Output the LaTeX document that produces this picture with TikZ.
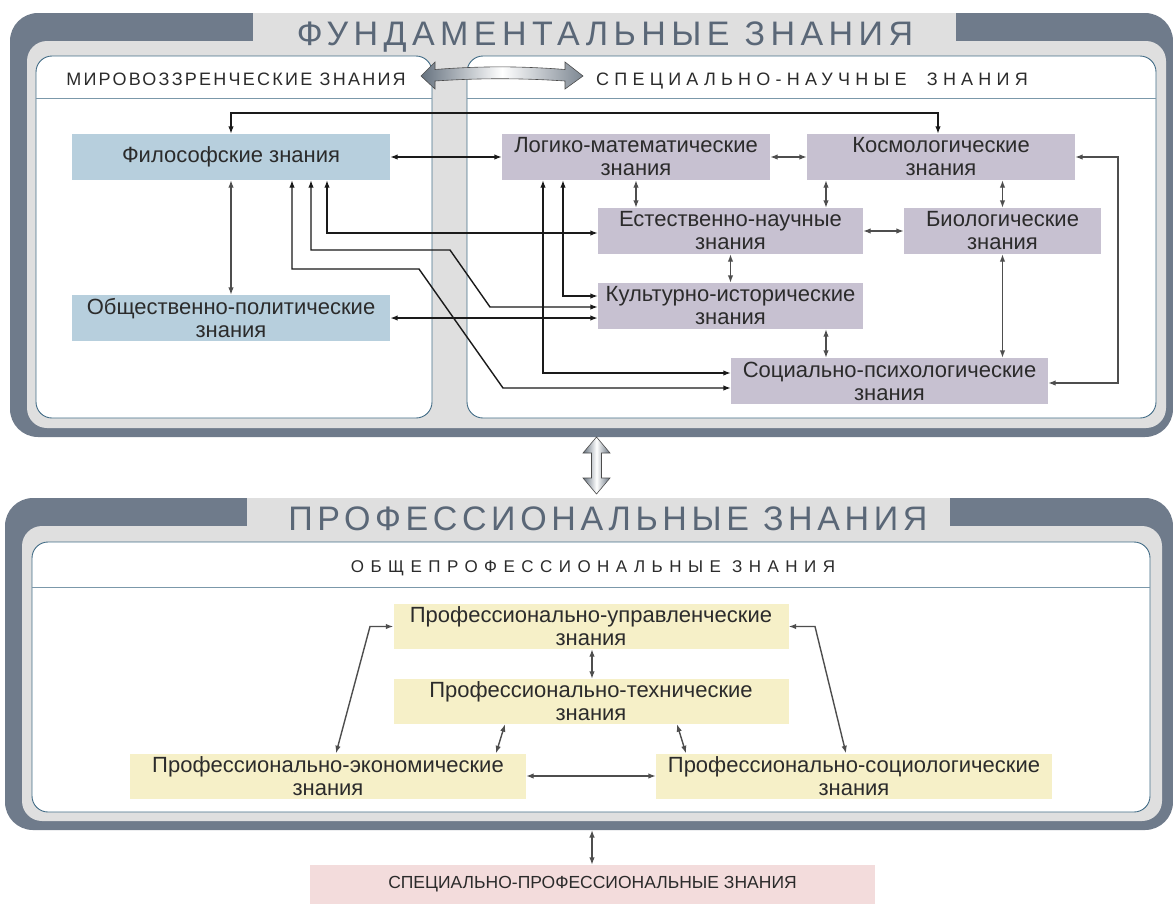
\documentclass[tikz,border=0pt]{standalone}
\usepackage{fontspec}
\setmainfont{Liberation Sans}
\newfontfamily\bigtitlefamily[LetterSpace=16]{Liberation Sans}
\newfontfamily\bigtitlefamilyB[LetterSpace=13.6]{Liberation Sans}
\newfontfamily\leftheadfamily[LetterSpace=12.5]{Liberation Sans}
\newfontfamily\rightheadfamily[LetterSpace=29]{Liberation Sans}
\newfontfamily\profheadfamily[LetterSpace=38]{Liberation Sans}
\usetikzlibrary{arrows.meta}

\definecolor{frameDark}{HTML}{6F7B8B}
\definecolor{frameLight}{HTML}{DFDFDF}
\definecolor{titleInk}{HTML}{5A6777}
\definecolor{panelLine}{HTML}{426C86}
\definecolor{boxBlue}{HTML}{B7CFDD}
\definecolor{boxMauve}{HTML}{C7C1D1}
\definecolor{boxYellow}{HTML}{F6F0C8}
\definecolor{boxPink}{HTML}{F3DCDC}
\definecolor{boxText}{HTML}{2B2B2B}
\definecolor{linkBlack}{HTML}{1A1A1A}
\definecolor{linkGray}{HTML}{4E4E4E}
\definecolor{arrDark}{HTML}{66727F}

\newcommand\kbfont{\fontsize{22}{23}\selectfont}
\newcommand\specfont{\fontsize{17.5}{20}\selectfont}

\begin{document}
\begin{tikzpicture}[x=1pt,y=-1pt,
  >={Latex[length=7.5pt,width=5.5pt]},
  kbox/.style={inner sep=0pt, align=center, font=\kbfont, text=boxText, minimum height=46pt},
  worldbox/.style={kbox, fill=boxBlue},
  scibox/.style={kbox, fill=boxMauve},
  profbox/.style={kbox, fill=boxYellow, minimum height=45pt},
  specbox/.style={inner sep=0pt, fill=boxPink, font=\specfont, text=boxText},
  panel/.style={fill=white, draw=panelLine, line width=0.9pt, rounded corners=16pt},
  divider/.style={draw=panelLine!70, line width=0.9pt},
  bigtitle/.style={anchor=base, inner sep=0pt, text=titleInk},
  headtext/.style={anchor=base, inner sep=0pt, text=boxText},
  blk/.style={<->, draw=linkBlack, line width=1.4pt},
  blkheavy/.style={<->, draw=linkBlack, line width=2.2pt},
  gry/.style={<->, draw=linkGray, line width=1.4pt},
  fatarrow/.style={draw=black!70, line width=0.6pt}
]
\useasboundingbox (0,0) rectangle (1173,903);

% ---------- upper frame: fundamental knowledge ----------
\fill[frameDark, rounded corners=28pt] (10,13) rectangle (1173,437);
\fill[frameLight, rounded corners=20pt] (27,41) rectangle (1166,428);
\fill[frameLight] (253,13) rectangle (956,41.5);
\path[panel] (36,56) rectangle (432,418);
\path[panel] (467,56) rectangle (1156,418);
\draw[divider] (36,98) -- (432,98);
\draw[divider] (467,98) -- (1156,98);

\node[bigtitle, font=\bigtitlefamily\fontsize{34}{38}\selectfont] (t1) at (605,45) {ФУНДАМЕНТАЛЬНЫЕ ЗНАНИЯ};
\node[headtext, font=\leftheadfamily\fontsize{18}{20}\selectfont] (h1) at (236,85) {МИРОВОЗЗРЕНЧЕСКИЕ ЗНАНИЯ};
\node[headtext, font=\rightheadfamily\fontsize{18}{20}\selectfont] (h2) at (812,85) {СПЕЦИАЛЬНО-НАУЧНЫЕ\hspace{10pt} ЗНАНИЯ};

% ---------- lower frame: professional knowledge ----------
\fill[frameDark, rounded corners=28pt] (5,498) rectangle (1173,830);
\fill[frameLight, rounded corners=20pt] (22,526) rectangle (1162,821);
\fill[frameLight] (247,498) rectangle (950,526.5);
\path[panel] (32,542) rectangle (1150,812);
\draw[divider] (32,587) -- (1150,587);

\node[bigtitle, font=\bigtitlefamilyB\fontsize{34}{38}\selectfont] (t2) at (608,530) {ПРОФЕССИОНАЛЬНЫЕ ЗНАНИЯ};
\node[headtext, font=\profheadfamily\fontsize{17}{20}\selectfont] (h3) at (593,572) {ОБЩЕПРОФЕССИОНАЛЬНЫЕ ЗНАНИЯ};

% ---------- worldview boxes ----------
\node[worldbox, minimum width=318pt] (phil) at (231,157) {Философские знания};
\node[worldbox, minimum width=318pt] (socpol) at (231,318) {Общественно-политические\\знания};

% ---------- special-science boxes ----------
\node[scibox, minimum width=268pt] (logic) at (636,157) {Логико-математические\\знания};
\node[scibox, minimum width=268pt] (cosmo) at (941,157) {Космологические\\знания};
\node[scibox, minimum width=265pt] (nat) at (730.5,231) {Естественно-научные\\знания};
\node[scibox, minimum width=197pt] (bio) at (1002.5,231) {Биологические\\знания};
\node[scibox, minimum width=265pt] (cult) at (730.5,306) {Культурно-исторические\\знания};
\node[scibox, minimum width=317pt] (socpsy) at (889.5,381) {Социально-психологические\\знания};

% ---------- professional boxes ----------
\node[profbox, minimum width=395pt] (upr) at (591,626.5) {Профессионально-управленческие\\знания};
\node[profbox, minimum width=395pt] (tech) at (591,701.5) {Профессионально-технические\\знания};
\node[profbox, minimum width=396pt] (econ) at (328,776) {Профессионально-экономические\\знания};
\node[profbox, minimum width=396pt] (sociol) at (854,776) {Профессионально-социологические\\знания};
\node[specbox, minimum width=565pt, minimum height=39pt] (spec) at (592.5,884.5) {СПЕЦИАЛЬНО-ПРОФЕССИОНАЛЬНЫЕ ЗНАНИЯ};

% ---------- links of philosophy ----------
\draw[blk] (phil.north) |- ([xshift=-3pt,yshift=21pt]cosmo.north) -- ([xshift=-3pt]cosmo.north);
\draw[blk] (phil.east) -- (logic.west);
\draw[gry] (phil.south) -- (socpol.north);
\draw[blk] ([xshift=96pt]phil.south) |- ([yshift=-2pt]nat.west);
\draw[blk] ([xshift=80pt]phil.south) |- (450,250) -- (490,307) -- ([yshift=-1pt]cult.west);
\draw[blk] ([xshift=61pt]phil.south) |- (419,269) -- (503,388) -- ([yshift=-7pt]socpsy.west);
\draw[blkheavy] (socpol.east) -- ([yshift=-12pt]cult.west);

% ---------- links of logic and mathematics ----------
\draw[blk] ([xshift=-93pt]logic.south) |- ([yshift=8pt]socpsy.west);
\draw[blk] ([xshift=-73pt]logic.south) |- ([yshift=10pt]cult.west);
\draw[gry] (logic.east) -- (cosmo.west);
\draw[gry] (logic.south) -- (logic.south |- nat.north);

% ---------- links among the sciences ----------
\coordinate (kn) at ([xshift=-115pt]cosmo.south);
\draw[gry] (kn) -- (kn |- nat.north);
\draw[gry] (bio.north) -- (bio.north |- cosmo.south);
\draw[gry] (nat.east) -- (bio.west);
\draw[gry] (nat.south) -- (cult.north);
\coordinate (cs) at ([xshift=95.5pt]cult.south);
\draw[gry] (cs) -- (cs |- socpsy.north);
\draw[gry] (bio.south) -- (bio.south |- socpsy.north);
\coordinate (rt) at (1118,270);
\draw[gry] (cosmo.east) -| (rt) |- ([yshift=-2pt]socpsy.east);

% ---------- professional links ----------
\coordinate (ut) at ([xshift=1pt]upr.south);
\draw[gry] (ut) -- (ut |- tech.north);
\draw[gry] ([xshift=-86pt]tech.south) -- ([xshift=168pt]econ.north);
\draw[gry] ([xshift=86pt]tech.south) -- ([xshift=-168pt]sociol.north);
\draw[gry] (econ.east) -- (sociol.west);
\draw[gry] (upr.west) -- (370,626.5) -- ([xshift=8pt]econ.north);
\draw[gry] (upr.east) -- (815,626.5) -- ([xshift=-8pt]sociol.north);
\coordinate (pb) at (592,830);
\draw[gry] (pb) -- (pb |- spec.north);

% ---------- shaded double arrows ----------
\shade[fatarrow, left color=arrDark, right color=arrDark!85, middle color=white]
  (421,76) -- (435,62) -- (435,69.5) .. controls (480,66) and (520,66) .. (565,69.5)
  -- (565,62) -- (583,76) -- (565,89) -- (565,81) .. controls (520,78) and (480,78) .. (435,81)
  -- (435,89) -- cycle;
\shade[fatarrow, left color=arrDark, right color=arrDark, middle color=white]
  (596.5,437) -- (610,453) -- (601.5,453) -- (601.5,478) -- (610,478) -- (596.5,494)
  -- (583,478) -- (591.5,478) -- (591.5,453) -- (583,453) -- cycle;
\end{tikzpicture}
\end{document}
